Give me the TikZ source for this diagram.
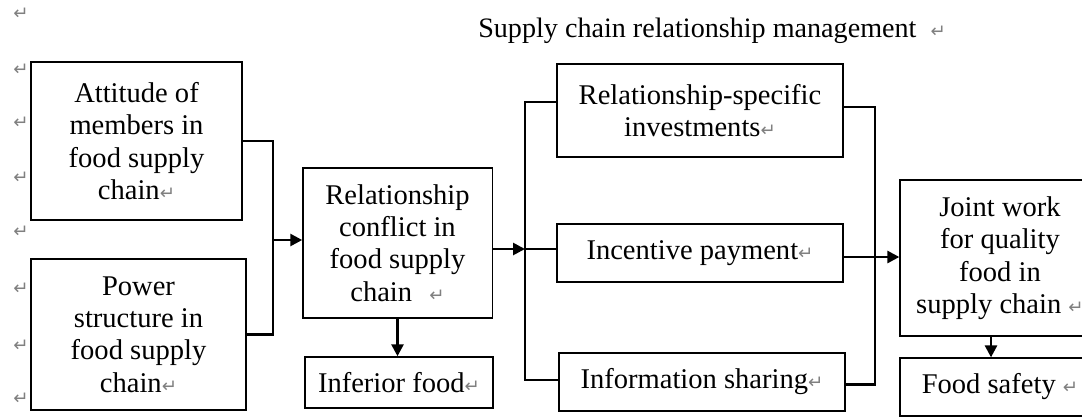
\documentclass[tikz,border=0pt]{standalone}
\usepackage{fontspec}
\setmainfont{Liberation Serif}
\newfontfamily\markfont{DejaVu Sans}
\usetikzlibrary{arrows.meta}
\newcommand{\pmark}{{\markfont\fontsize{13}{13}\selectfont\color{gray}↵}}
\tikzset{
  box/.style={draw, line width=0.9pt, align=center, inner sep=2pt, font=\fontsize{20.3}{23}\selectfont},
  link/.style={line width=1.9pt},
  flow/.style={link, -{Triangle[length=8.5pt,width=8.5pt]}}
}

\begin{document}
\begin{tikzpicture}[x=0.025cm,y=-0.025cm]
  \useasboundingbox (0,0) rectangle (1082,416);
  \clip (0,0) rectangle (1082,416);

  \node[anchor=base west, inner sep=0pt, font=\fontsize{20}{23}\selectfont] (title) at (478,37) {Supply chain relationship management\hspace{0.5em}\pmark};
  \foreach \y in {14,70,123,178,232,289,346,399} {
    \node (pm\y) at (21,\y) {\pmark};
  };

  \node[box, minimum width=5.28cm, minimum height=3.95cm] (attitude) at (136.5,141) {Attitude of\\members in\\food supply\\chain\pmark};
  \node[box, minimum width=5.38cm, minimum height=3.78cm] (power) at (138.5,334.5) {Power\\structure in\\food supply\\chain\pmark};
  \node[box, minimum width=4.73cm, minimum height=3.75cm] (conflict) at (397.5,243) {Relationship\\conflict in\\food supply\\chain\hspace{0.6em}\pmark};
  \node[box, minimum width=4.7cm, minimum height=1.28cm] (inferior) at (399,382.5) {Inferior food\pmark};
  \node[box, minimum width=7.15cm, minimum height=2.33cm] (invest) at (700,110.5) {Relationship-specific\\investments\pmark};
  \node[box, minimum width=7.15cm, minimum height=1.45cm] (payment) at (700,253) {Incentive payment\pmark};
  \node[box, minimum width=7.15cm, minimum height=1.45cm] (sharing) at (702,382) {Information sharing\pmark};
  \node[box, minimum width=5cm, minimum height=3.9cm] (joint) at (1000,258) {Joint work\\for quality\\food in\\supply chain \pmark};
  \node[box, minimum width=5cm, minimum height=1.45cm] (safety) at (1000,387) {Food safety \pmark};

  \coordinate (joinL) at (273,240);
  \coordinate (joinM) at (525,249);
  \coordinate (joinR) at (875,257);

  \draw[link] (attitude.east) -| (joinL) |- (power.east);
  \draw[flow] (joinL) -- (joinL -| conflict.west);
  \draw[flow] (conflict.east |- joinM) -- (joinM);
  \draw[link] ([yshift=0.21cm]invest.west) -| (joinM) |- ([yshift=0.05cm]sharing.west);
  \draw[link] (joinM) -- (joinM -| payment.west);
  \draw[link] ([yshift=0.09cm]invest.east) -| (joinR) |- ([yshift=-0.07cm]sharing.east);
  \draw[flow] (payment.east |- joinR) -- (joinR -| joint.west);
  \draw[flow] (conflict.south) -- (conflict.south |- inferior.north);
  \draw[flow] ([xshift=-0.225cm]joint.south) -- ([xshift=-0.225cm]safety.north);
\end{tikzpicture}
\end{document}
